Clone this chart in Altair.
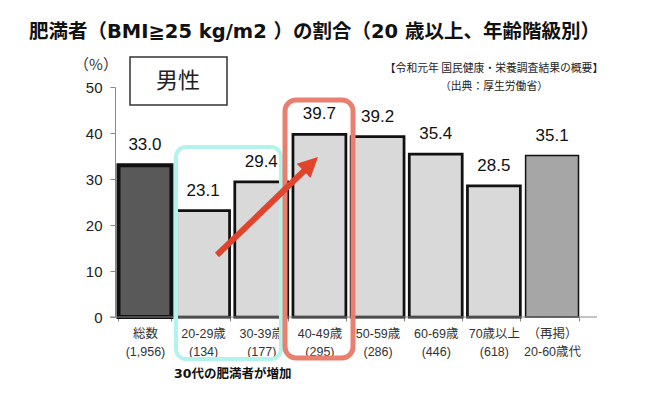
import altair as alt
import pandas as pd

# ---- data ----
categories = ["総数", "20-29歳", "30-39歳", "40-49歳", "50-59歳", "60-69歳", "70歳以上", "（再掲）"]
sub_labels = ["(1,956)", "(134)", "(177)", "(295)", "(286)", "(446)", "(618)", "20-60歳代"]
values = [33.0, 23.1, 29.4, 39.7, 39.2, 35.4, 28.5, 35.1]
groups = ["総数", "年齢階級", "年齢階級", "年齢階級", "年齢階級", "年齢階級", "年齢階級", "再掲"]
y_ticks = [0, 10, 20, 30, 40, 50]

title_text = "肥満者（BMI≧25 kg/m2 ）の割合（20 歳以上、年齢階級別）"
source_line1 = "【令和元年 国民健康・栄養調査結果の概要】"
source_line2 = "（出典：厚生労働省）"
panel_label = "男性"
unit_label = "（%）"
note_text = "30代の肥満者が増加"

labels = [f"{c}|{s}" for c, s in zip(categories, sub_labels)]
df = pd.DataFrame({"label": labels, "value": values, "group": groups})

NUM_FONT = "'Liberation Sans', Arial, 'Noto Sans CJK JP', sans-serif"
JP_FONT = "'Noto Sans CJK JP', sans-serif"
TITLE_FONT = "'DejaVu Sans', 'Noto Sans CJK JP', sans-serif"

W, H = 467, 230

x_enc = alt.X(
    "label:N",
    sort=labels,
    scale=alt.Scale(paddingInner=0.09, paddingOuter=0.06),
    axis=alt.Axis(
        title=None,
        labelExpr="split(datum.label, '|')",
        labelAngle=0,
        labelFont=NUM_FONT,
        labelFontSize=12.5,
        labelColor="#333333",
        labelLineHeight=18,
        labelBaseline="top",
        labelPadding=6,
        tickSize=4,
        tickColor="#888888",
        tickBand="extent",
        domain=False,
    ),
)
y_enc = alt.Y(
    "value:Q",
    scale=alt.Scale(domain=[0, 50], nice=False),
    axis=alt.Axis(
        title=None,
        values=y_ticks,
        grid=False,
        tickSize=5,
        labelPadding=8,
        labelFont=NUM_FONT,
        labelFontSize=15,
        labelColor="#222222",
        domainColor="#888888",
        tickColor="#888888",
    ),
)

base = alt.Chart(df)

bars = base.mark_bar(stroke="#111111").encode(
    x=x_enc,
    y=y_enc,
    fill=alt.Fill(
        "group:N",
        scale=alt.Scale(domain=["総数", "年齢階級", "再掲"], range=["#595959", "#d9d9d9", "#a6a6a6"]),
        legend=None,
    ),
    strokeWidth=alt.StrokeWidth(
        "group:N",
        scale=alt.Scale(domain=["総数", "年齢階級", "再掲"], range=[4, 1.5, 1.5]),
        legend=None,
    ),
)

value_labels = base.mark_text(
    dy=-15, baseline="alphabetic", fontSize=17, font=NUM_FONT, color="#111111"
).encode(
    x=alt.X("label:N", sort=labels),
    y="value:Q",
    text=alt.Text("value:Q", format=".1f"),
)

one = pd.DataFrame({"k": [0]})

x_axis_line = alt.Chart(one).mark_rule(color="#888888", strokeWidth=1).encode(
    x=alt.value(-5), x2=alt.value(482), y=alt.datum(0)
)


def text_layer(txt, x, y, size, weight="normal", align="left", font=JP_FONT, color="#111111"):
    return alt.Chart(pd.DataFrame({"t": [txt]})).mark_text(
        align=align, baseline="middle", fontSize=size, fontWeight=weight, font=font, color=color
    ).encode(x=alt.value(x), y=alt.value(y), text="t:N")


title = text_layer(title_text, -86, -55, 19.5, weight="bold", font=TITLE_FONT)
src1 = text_layer(source_line1, 379, -18, 10.8, align="center", color="#222222")
src2 = text_layer(source_line2, 379, 0, 10.8, align="center", color="#222222")
unit = text_layer(unit_label, -19, -22, 15, align="center", color="#333333")
note = text_layer(note_text, 59, 287, 12.5, weight="bold", font=TITLE_FONT)

panel_box = alt.Chart(one).mark_rect(fill="white", stroke="#333333", strokeWidth=1.5).encode(
    x=alt.value(15), x2=alt.value(112), y=alt.value(-30), y2=alt.value(18)
)
panel_text = text_layer(panel_label, 63, -6, 22, align="center", color="#222222")

cyan_box = alt.Chart(one).mark_rect(
    fillOpacity=0, stroke="#b2f3ec", strokeWidth=4, cornerRadius=10
).encode(x=alt.value(61), x2=alt.value(166), y=alt.value(60), y2=alt.value(272))

red_box = alt.Chart(one).mark_rect(
    fillOpacity=0, stroke="#e9806f", strokeWidth=5, cornerRadius=11
).encode(x=alt.value(170), x2=alt.value(238), y=alt.value(13), y2=alt.value(271))

arrow_shaft = alt.Chart(one).mark_rule(color="#e0442c", strokeWidth=6).encode(
    x=alt.value(102), y=alt.value(168), x2=alt.value(191), y2=alt.value(82)
)
arrow_head = alt.Chart(one).mark_point(
    shape="M0,0L-0.5,1L0.5,1Z", size=1600, filled=True, color="#e0442c", opacity=1, angle=46
).encode(x=alt.value(203), y=alt.value(70))

chart = alt.layer(
    bars,
    x_axis_line,
    value_labels,
    cyan_box,
    red_box,
    arrow_shaft,
    arrow_head,
    panel_box,
    panel_text,
    title,
    src1,
    src2,
    unit,
    note,
).properties(
    width=W,
    height=H,
    autosize=alt.AutoSizeParams(type="none"),
    padding={"left": 107, "top": 79, "right": 57, "bottom": 75},
).configure_view(stroke=None)

chart.save("out.html", embed_options={"renderer": "svg", "actions": False})
